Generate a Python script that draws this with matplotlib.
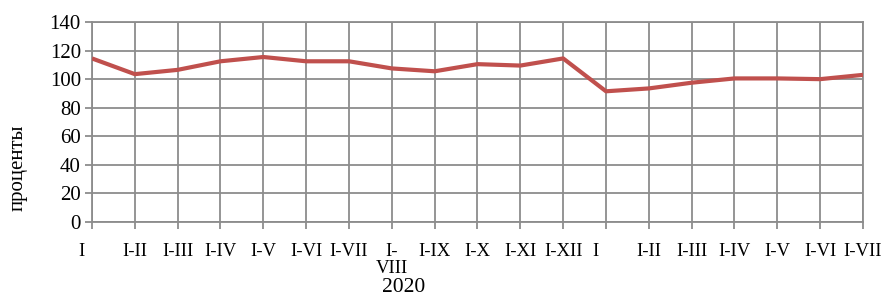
import matplotlib
matplotlib.use("Agg")
import matplotlib.pyplot as plt
import matplotlib.transforms as mtransforms

categories = ["I", "I-II", "I-III", "I-IV", "I-V", "I-VI", "I-VII", "I-\nVIII", "I-IX", "I-X",
              "I-XI", "I-XII", "I", "I-II", "I-III", "I-IV", "I-V", "I-VI", "I-VII"]
values = [114.5, 103.5, 106.5, 112.5, 115.5, 112.5, 112.5, 107.5, 105.5, 110.5,
          109.5, 114.5, 91.5, 93.5, 97.5, 100.5, 100.5, 100.0, 103.0]
yticks = [0, 20, 40, 60, 80, 100, 120, 140]
year_label = "2020"
ylabel = "проценты"

plt.rcParams['font.family'] = ['Liberation Serif', 'DejaVu Serif']

fig = plt.figure(figsize=(8.83, 2.98), dpi=100)
ax = fig.add_axes([92/883, 76/298, 771/883, 200/298])

x = list(range(len(values)))
ax.plot(x, values, color="#C0504D", lw=3.0, solid_joinstyle="round", solid_capstyle="butt", zorder=3)

ax.set_xlim(0, len(values) - 1)
ax.set_ylim(0, 140)
ax.set_yticks(yticks)
ax.set_yticklabels([str(v) for v in yticks], fontsize=15)
ax.set_xticks(x)
ax.set_xticklabels(categories, fontsize=13.5, linespacing=1.0)

gc = "#8c8c8c"
ax.grid(True, color=gc, lw=1.3)
ax.set_axisbelow(True)
for s in ax.spines.values():
    s.set_color(gc)
    s.set_linewidth(1.3)
ax.tick_params(axis="both", color=gc, width=1.3, length=5)
ax.tick_params(axis="x", pad=10)
ax.tick_params(axis="y", pad=3)

for i, lab in enumerate(ax.get_xticklabels()):
    if categories[i] == "I":
        off = mtransforms.ScaledTranslation(-11/100, 0, fig.dpi_scale_trans)
        lab.set_transform(lab.get_transform() + off)

fig.text(18/883, 1 - 168/298, ylabel, rotation=90, ha="center", va="center", fontsize=15)
fig.text(404/883, 1 - 287/298, year_label, ha="center", va="center", fontsize=15.5)

fig.savefig("out.png", dpi=100)
